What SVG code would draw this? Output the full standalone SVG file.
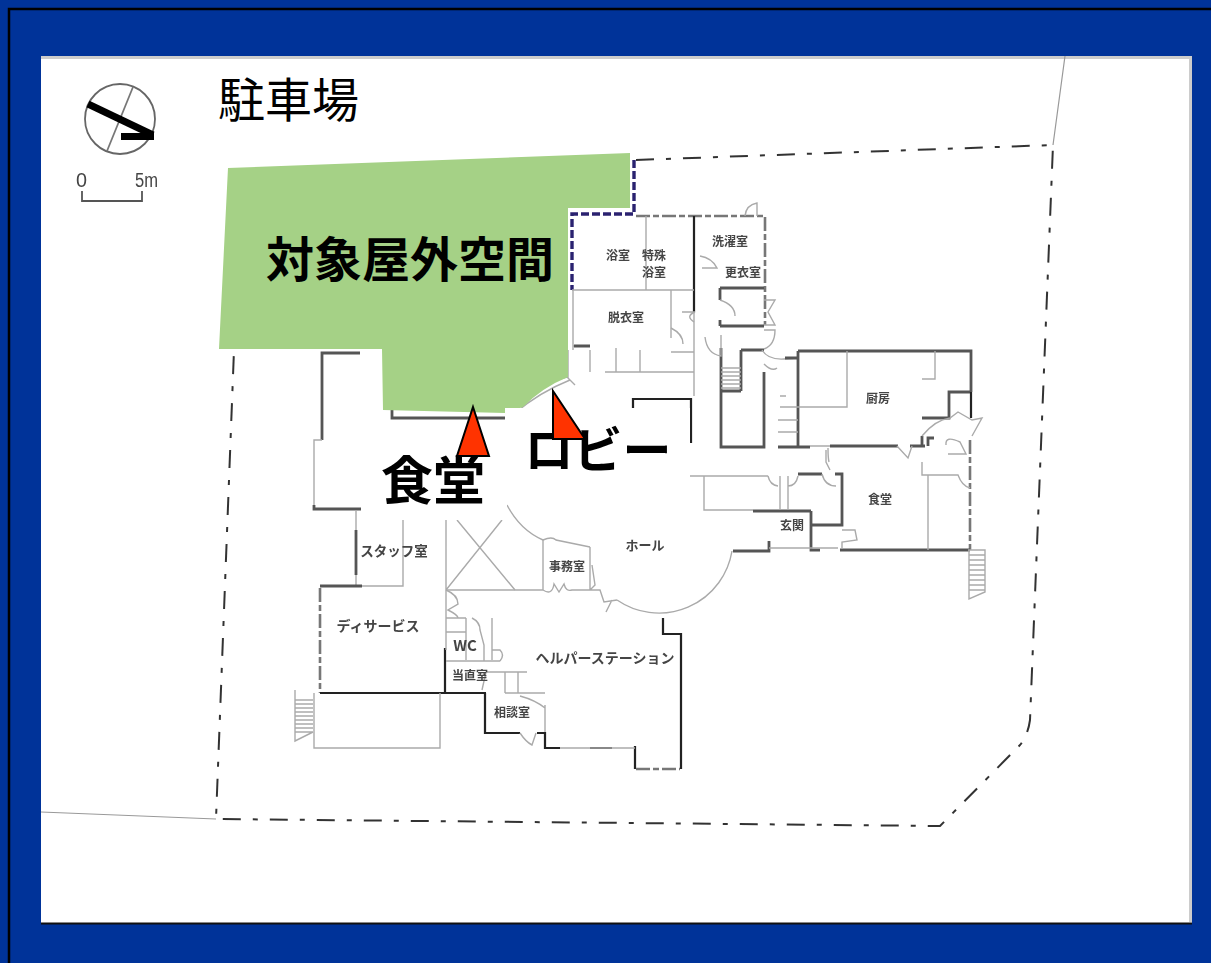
<svg xmlns="http://www.w3.org/2000/svg" width="1211" height="963" viewBox="0 0 1211 963">
<defs><filter id="soft" x="-5%" y="-5%" width="110%" height="110%"><feGaussianBlur stdDeviation="0.7"/></filter></defs>
<style>
.j{font-family:"Noto Sans CJK JP","Liberation Sans",sans-serif}
.big{font-weight:700;fill:#000;text-anchor:middle}
.rm{font-size:12px;font-weight:700;fill:#444;text-anchor:middle}
.t{fill:none;stroke:#aaa;stroke-width:1.4}
.w{fill:none;stroke:#555;stroke-width:2.8}
.b{fill:none;stroke:#222;stroke-width:2.2}
.g{fill:none;stroke:#777;stroke-width:2.6;stroke-dasharray:14 3 6 3}
.n{fill:none;stroke:#2b2470;stroke-width:3.4;stroke-dasharray:8 3}
.d{fill:none;stroke:#333;stroke-width:2;stroke-dasharray:18 12 5 12}
.s{fill:none;stroke:#999;stroke-width:1.2}
.tri{fill:#ff3300;stroke:#000;stroke-width:2;stroke-linejoin:miter}
</style>
<rect width="1211" height="963" fill="#003399"/>
<path d="M9,963V9H1211" fill="none" stroke="#000" stroke-width="2.5"/>
<rect x="41" y="56" width="1151" height="867" fill="#fff"/>
<path d="M41,57.500H1190.500V922" fill="none" stroke="#ccc" stroke-width="3"/>
<path d="M41,923.500H1192" fill="none" stroke="#111" stroke-width="2"/>

<g id="plan" filter="url(#soft)">
<path class="s" d="M1065,56L1053,145M41,812L216,819"/>
<path class="d" d="M636,160L1053,145L1030,720Q1028,735 1020,745L940,826L216,819L234,350"/>
<!-- compass -->
<circle cx="120" cy="119" r="35" fill="none" stroke="#666" stroke-width="1.8"/>
<path d="M133,87L107,151" fill="none" stroke="#777" stroke-width="1.8"/>
<path d="M88,104L153,135" fill="none" stroke="#000" stroke-width="7"/>
<path d="M121,136.500H154" fill="none" stroke="#000" stroke-width="7"/>
<path d="M82,191V201H142V191" fill="none" stroke="#555" stroke-width="1.8"/>
<text x="76" y="187" font-family="Liberation Sans, sans-serif" font-size="20" fill="#444" textLength="11" lengthAdjust="spacingAndGlyphs">0</text>
<text x="135" y="187" font-family="Liberation Sans, sans-serif" font-size="20" fill="#444" textLength="23" lengthAdjust="spacingAndGlyphs">5m</text>
<!-- bath block -->
<path class="n" d="M634,160V214H572V290"/>
<path class="g" d="M636,216H765V325"/>
<path class="b" d="M694,216V312"/>
<path class="t" d="M646,216V290M572,290H694M671,290V338M694,312V396M573,290V350M573,346H590M590,350V372M616,348V372M640,350V372M671,352H694M605,372H694"/>
<path class="w" d="M574,346H590M720,288H764M720,326H764M720,288V300M720,320V326"/>
<path class="w" d="M721,348V447H764V372M741,350H764M741,350V391M721,391H741"/>
<path class="b" d="M633,408V399H691V443"/>
<path class="t" d="M721,368H741M721,372H741M721,376H741M721,380H741M721,384H741M721,388H741"/>
<path class="t" d="M745,216Q746,205 757,203V216M700,256Q712,258 717,268H702M720,300Q735,305 735,316M764,300H775L768,312L775,325H764M682,312L695,312Q685,316 694,322M671,328Q683,334 683,344M705,337Q707,354 721,356V335M764,330H775Q775,345 764,349M762,350Q768,360 784,359L798,358M764,364Q772,372 777,368"/>
<!-- kitchen -->
<path class="w" d="M798,351H971V392M798,351V447M778,447H810M830,446H898M910,446H925M971,392H949V418H922M785,358H798"/>
<path class="t" d="M847,351V407H798M935,351V379H922M780,407H798M778,432H798M778,420H798M780,396H786M810,446H830"/>
<path class="b" d="M971,392V418"/>
<path class="w" d="M922,446V436M928,446V438H934"/>
<path class="g" d="M970,440V550"/>
<path class="t" d="M922,436Q935,420 950,418L958,412L972,420L982,418L972,436M946,445Q945,435 960,442L966,454H948M897,446L908,458L912,446M826,450V462L830,470M828,448Q828,458 829,462"/>
<!-- dining / entrance -->
<path class="w" d="M798,474H822M835,474H842V525H811M811,511H753M811,511V550H820M840,550H970M733,551H769V541"/>
<path class="t" d="M928,475V550M922,462V475H958Q962,486 970,488M690,476H768M704,476V510H753M780,476V510M788,476V510M769,548H838M768,476Q770,485 778,486M788,486Q796,486 798,476M822,474Q825,486 836,486M842,530H855L857,540L842,542V548"/>
<!-- hall arcs -->
<path class="t" d="M507,505Q520,530 543,540Q552,536 556,540L590,547"/>
<path class="t" d="M617,600A74,74 0 0 0 732,551" stroke-width="1.6"/>
<path class="t" d="M510,409Q535,385 567,377M515,413Q540,392 570,380M567,377L575,385M568,350V378"/>
<!-- office -->
<path class="t" d="M543,540V590M590,547V590M446,590H543M543,590Q552,596 554,584L559,592L564,584Q566,592 572,590H590M590,590L595,585L592,565M590,590L600,590L604,602L617,600M612,600L606,612"/>
<path class="t" d="M446,520V590M457,520L515,590M502,520L446,590M446,590Q458,595 458,604L448,610Q458,615 458,618"/>
<!-- left wing -->
<path class="w" d="M360,353H322V440M392,410V418H505"/>
<path class="t" d="M322,440H314V505"/>
<path class="w" d="M314,505V509H361"/>
<path class="t" d="M356,510V586M403,520V586H320"/>
<path class="w" d="M356,530V575"/>
<path class="w" d="M320,586H362"/>
<path class="g" d="M320,588V693"/>
<path class="b" d="M320,693H486"/>
<path class="b" d="M445,648V693"/>
<path class="t" d="M314,693V748H440V693"/>
<path class="t" d="M295,690V741L313,732M295,700H313M295,704H313M295,708H313M295,712H313M295,716H313M295,720H313M295,724H313M295,728H313M295,732H313"/>
<!-- wc -->
<path class="t" d="M446,590V650M446,618H466M466,618V660M446,632H466M492,618V660M446,661H500M472,618Q480,622 480,630L484,645V661M500,661Q505,655 500,650H492M486,672H527M505,672V693M518,672V693M505,693H545M545,705V732M520,696Q535,700 545,708M486,672L482,690"/>
<!-- helper station -->
<path class="b" d="M485,693V733H520M537,733H545V748H560M590,748H612M635,746V769"/>
<path class="t" d="M520,733Q526,742 532,745L536,733M560,748H635"/>
<path class="b" d="M663,618V634H681V769"/>
<path class="g" d="M636,769H680"/>
<!-- east stair -->
<path class="t" d="M968,550H985V592L969,599V550M969,555H985M969,560H985M969,565H985M969,570H985M969,575H985M969,580H985M969,585H985M969,590H985"/>
<!-- room labels -->
<g class="j rm">
<text x="618" y="260">浴室</text>
<text x="654" y="260">特殊</text>
<text x="654" y="277">浴室</text>
<text x="730" y="246">洗濯室</text>
<text x="743" y="277">更衣室</text>
<text x="626" y="322">脱衣室</text>
<text x="878" y="403">厨房</text>
<text x="880" y="504">食堂</text>
<text x="792" y="530">玄関</text>
<text x="645" y="550" style="font-size:13px">ホール</text>
<text x="567" y="571">事務室</text>
<text x="394" y="556" style="font-size:13.500px">スタッフ室</text>
<text x="378" y="631" style="font-size:14px">ディサービス</text>
<text x="465" y="651" style="font-size:15px">WC</text>
<text x="470" y="680">当直室</text>
<text x="512" y="717">相談室</text>
<text x="605" y="663" style="font-size:14px">ヘルパーステーション</text>
</g>
</g>

<path id="green" d="M228,168L630,153V208H568V377Q543,387 523,407L505,413L383,410L382,349H219Z" fill="#a5d186"/>
<rect x="505" y="408" width="185" height="70" fill="#fff"/>
<rect x="361" y="422" width="146" height="98" fill="#fff"/>
<rect x="500" y="470" width="30" height="30" fill="#fff"/>

<text class="j" x="218" y="117" font-size="47" fill="#000">駐車場</text>
<text class="j big" x="410" y="277" font-size="48">対象屋外空間</text>
<text class="j big" x="433" y="500" font-size="52">食堂</text>
<text class="j big" x="598" y="468" font-size="49">ロビー</text>
<path class="tri" d="M473,407L489,456H457Z"/>
<path class="tri" d="M553,391L585,439H553Z"/>
</svg>
